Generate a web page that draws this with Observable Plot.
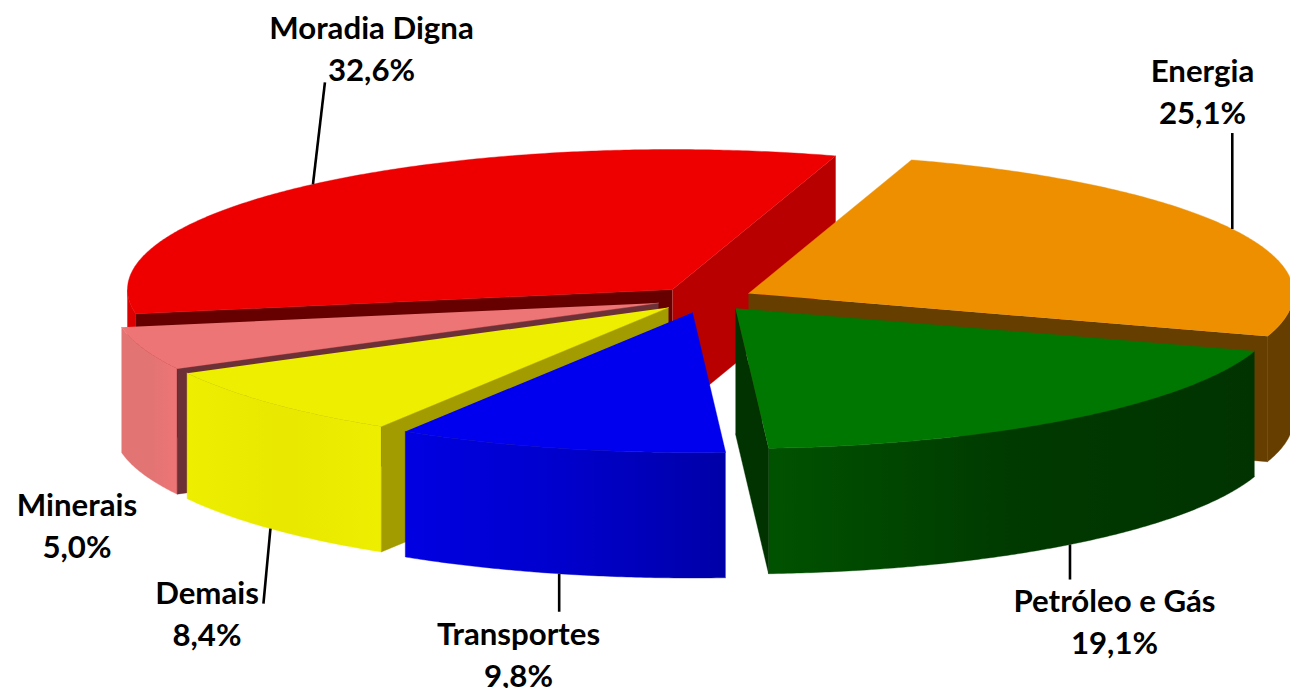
<!DOCTYPE html>
<html lang="pt">
<head>
<meta charset="utf-8">
<title>Moradia Digna, Energia, Petróleo e Gás</title>
<script src="https://cdn.jsdelivr.net/npm/d3@7"></script>
<script src="https://cdn.jsdelivr.net/npm/@observablehq/plot@0.6"></script>
<style>
  html, body { margin: 0; padding: 0; background: #fff; }
  svg { display: block; }
</style>
</head>
<body>
<div id="chart"></div>
<script>
// --- data (clockwise from the top-right cut of the red slice) ---
const categories = ["Energia", "Petróleo e Gás", "Transportes", "Demais", "Minerais", "Moradia Digna"];
const shares = [25.1, 19.1, 9.8, 8.4, 5.0, 32.6];

// --- styling ---
const topColors = ["#ee8f00", "#007700", "#0000ee", "#eeee00", "#ee7575", "#ee0000"];
const startCutColors = ["#663f00", "#663f00", "#0000aa", "#a39c00", "#6b3136", "#660000"];
const endCutColors = ["#663f00", "#003300", "#0000aa", "#a39c00", "#6b3136", "#b80000"];
const rimStops = [
  ["#663f00", "#663f00"],
  ["#005200", "#003a00", "#003300"],
  ["#0000e2", "#0000cc", "#0000a8"],
  ["#eeee00", "#e8e800", "#eeee00"],
  ["#e27474", "#e27474", "#ee7575"],
  ["#dd0000", "#dd0000"]
];

// --- 3D pie layout ---
const startAngle = 17.4;        // degrees clockwise from the back of the pie
const radiusX = 545, radiusY = 140, depth = 125.5;
const apexX = [748, 735, 692, 668, 658, 672];
const apexY = [293, 308, 312, 307, 302.5, 289];
const drawOrder = [5, 0, 4, 3, 1, 2];
const leaderDX = [0, 0, 0, -7, null, 12];
const leaderDY = [-96, 35, 38, 75, null, -102];
const labelX = [1202, 1114, 518, 206.5, 76.5, 371];
const labelY = [89.5, 619.5, 652.5, 611.5, 523.5, 46.5];

// --- geometry derived from the shares ---
const rad = d => d * Math.PI / 180;
const total = d3.sum(shares);
let running = startAngle;
const slices = shares.map((v, i) => {
  const a0 = running, a1 = running + v / total * 360;
  running = a1;
  const rim = a => ({
    x: apexX[i] + radiusX * Math.sin(rad(a)),
    y: apexY[i] - radiusY * Math.cos(rad(a))
  });
  return {i, a0, a1, rim, apex: {x: apexX[i], y: apexY[i]}};
});
const down = p => ({x: p.x, y: p.y + depth});
const arc = (s, a0, a1) => {
  const steps = Math.max(2, Math.ceil((a1 - a0) * 2));
  return d3.range(steps + 1).map(k => s.rim(a0 + (a1 - a0) * k / steps));
};
const facesViewer = angle => -Math.cos(rad(angle)) > 1e-6;

const marks = [];
// gradient definitions for the outer walls
marks.push(() => {
  const defs = d3.create("svg:defs");
  rimStops.forEach((stops, i) => {
    const g = defs.append("linearGradient").attr("id", "rim" + i)
      .attr("x1", 0).attr("x2", 1).attr("y1", 0).attr("y2", 0);
    stops.forEach((c, k) => g.append("stop")
      .attr("offset", k / (stops.length - 1)).attr("stop-color", c));
  });
  return defs.node();
});

const polygon = (pts, fill) => Plot.line(pts, {
  x: "x", y: "y", fill, stroke: fill, strokeWidth: 0.4, curve: "linear"
});

for (const idx of drawOrder) {
  const s = slices[idx];
  // outer wall, only the part of the rim that faces the viewer
  const lo = Math.max(s.a0, 90), hi = Math.min(s.a1, 270);
  if (hi > lo) {
    const edge = arc(s, lo, hi);
    marks.push(polygon([...edge, ...edge.map(down).reverse()], `url(#rim${idx})`));
  }
  // radial cut walls
  if (facesViewer(s.a0 - 90)) {
    const p = s.rim(s.a0);
    marks.push(polygon([s.apex, p, down(p), down(s.apex)], startCutColors[idx]));
  }
  if (facesViewer(s.a1 + 90)) {
    const p = s.rim(s.a1);
    marks.push(polygon([s.apex, p, down(p), down(s.apex)], endCutColors[idx]));
  }
  // top face
  marks.push(polygon([s.apex, ...arc(s, s.a0, s.a1)], topColors[idx]));
}

// leader lines start at the mid-angle of each slice's rim
const leaders = slices.filter(s => leaderDX[s.i] !== null).map(s => {
  const mid = (s.a0 + s.a1) / 2;
  const p = s.rim(mid);
  const start = Math.cos(rad(mid)) < 0 ? down(p) : p;
  return {x1: start.x, y1: start.y, x2: start.x + leaderDX[s.i], y2: start.y + leaderDY[s.i]};
});
marks.push(Plot.link(leaders, {
  x1: "x1", y1: "y1", x2: "x2", y2: "y2", stroke: "#000", strokeWidth: 2.6
}));

const percent = v => v.toFixed(1).replace(".", ",") + "%";
marks.push(Plot.text(categories.map((c, i) => ({
  text: c + "\n" + percent(shares[i]), x: labelX[i], y: labelY[i]
})), {
  x: "x", y: "y", text: "text", fill: "#000", fontSize: 31.2, fontWeight: 700,
  lineHeight: 1.347, textAnchor: "middle", lineAnchor: "middle"
}));

const chart = Plot.plot({
  width: 1290, height: 688, margin: 0,
  style: {background: "#fff", fontFamily: "Lato, 'Noto Sans', sans-serif"},
  x: {domain: [0, 1290], range: [0, 1290], axis: null},
  y: {domain: [0, 688], range: [0, 688], axis: null},
  marks
});
document.getElementById("chart").append(chart);
</script>
</body>
</html>
